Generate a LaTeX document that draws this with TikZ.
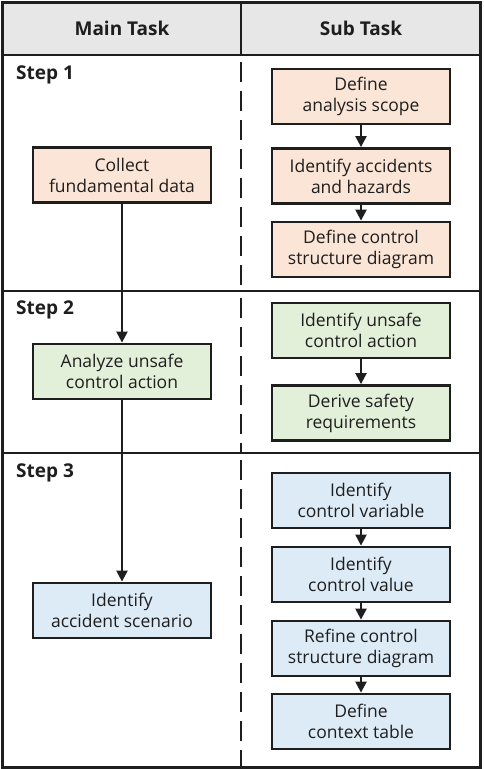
\documentclass[tikz,border=0pt]{standalone}
\usepackage{fontspec}
\setmainfont{Open Sans}
\usetikzlibrary{arrows.meta}
\definecolor{stepone}{HTML}{FBE5D6}
\definecolor{steptwo}{HTML}{E2EFD9}
\definecolor{stepthree}{HTML}{DDEBF7}
\definecolor{headgray}{HTML}{E7E7E7}
\definecolor{ink}{HTML}{1E1E1E}
\begin{document}
\begin{tikzpicture}[x=1pt,y=-1pt, color=ink,
    box/.style={draw, line width=2.8pt, minimum width=178pt, minimum height=55pt,
      inner sep=0pt, align=center, font=\fontsize{17.5}{21}\selectfont},
    flow/.style={line width=2.3pt, -{Triangle[length=11pt,width=11pt]}},
    steplabel/.style={anchor=west, inner sep=0pt, font=\fontsize{19}{22}\selectfont\bfseries}]
    \useasboundingbox (0,0) rectangle (483,769);

    % Draw header band and frame
    \fill[headgray] (2,2) rectangle (480,55);
    \draw[line width=3pt] (2,2) rectangle (480,767);
    \draw[line width=2.6pt] (2,55) -- (480,55);
    \draw[line width=2.6pt] (2,291) -- (480,291);
    \draw[line width=2.6pt] (2,453) -- (480,453);
    \draw[line width=2.4pt] (241,2) -- (241,55);
    % Dashed divider for each step
    \draw[line width=2.4pt, dash pattern=on 20pt off 9pt] (241,62) -- (241,291);
    \draw[line width=2.4pt, dash pattern=on 20pt off 9pt] (241,298) -- (241,453);
    \draw[line width=2.4pt, dash pattern=on 20pt off 9pt] (241,460) -- (241,767);

    % Header texts
    \node[font=\fontsize{19}{22}\selectfont\bfseries] (hmain) at (122,28) {Main Task};
    \node[font=\fontsize{19}{22}\selectfont\bfseries] (hsub) at (361,28) {Sub Task};

    % Step labels
    \node[steplabel] (step1) at (16,75) {Step 1};
    \node[steplabel] (step2) at (16,310) {Step 2};
    \node[steplabel] (step3) at (16,473) {Step 3};

    % Draw nodes for main task
    \node[box, fill=stepone] (main1) at (122,175) {Collect\\fundamental data};
    \node[box, fill=steptwo] (main2) at (122,371.5) {Analyze unsafe\\control action};
    \node[box, fill=stepthree] (main3) at (122,610.5) {Identify\\accident scenario};

    % Draw nodes for sub task
    \node[box, fill=stepone] (sub1a) at (361,96.5) {Define\\analysis scope};
    \node[box, fill=stepone] (sub1b) at (361,176) {Identify accidents\\and hazards};
    \node[box, fill=stepone] (sub1c) at (361,249.5) {Define control\\structure diagram};
    \node[box, fill=steptwo] (sub2a) at (361,330.5) {Identify unsafe\\control action};
    \node[box, fill=steptwo] (sub2b) at (361,413) {Derive safety\\requirements};
    \node[box, fill=stepthree] (sub3a) at (361,500.5) {Identify\\control variable};
    \node[box, fill=stepthree] (sub3b) at (361,574.5) {Identify\\control value};
    \node[box, fill=stepthree] (sub3c) at (361,648.5) {Refine control\\structure diagram};
    \node[box, fill=stepthree] (sub3d) at (361,721.5) {Define\\context table};

    % Draw all arrows
    \draw[flow] (main1) -- (main2);
    \draw[flow] (main2) -- (main3);
    \draw[flow] (sub1a) -- (sub1b);
    \draw[flow] (sub1b) -- (sub1c);
    \draw[flow] (sub2a) -- (sub2b);
    \draw[flow] (sub3a) -- (sub3b);
    \draw[flow] (sub3b) -- (sub3c);
    \draw[flow] (sub3c) -- (sub3d);

\end{tikzpicture}
\end{document}
